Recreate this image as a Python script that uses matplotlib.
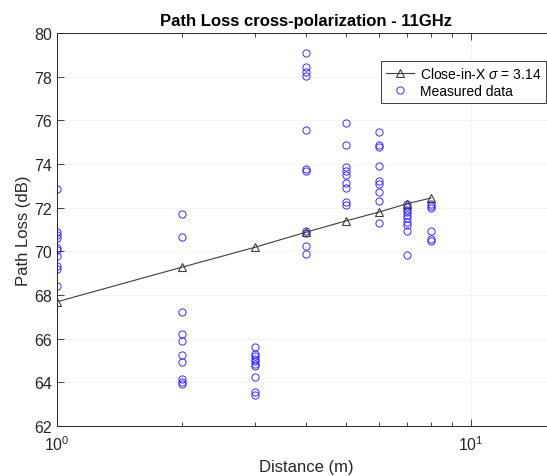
import numpy as np
import matplotlib.pyplot as plt
from matplotlib.ticker import LogLocator, NullFormatter

plt.rcParams['font.family'] = ['Liberation Sans', 'DejaVu Sans']
plt.rcParams['mathtext.fontset'] = 'custom'
plt.rcParams['mathtext.rm'] = 'Liberation Sans'
plt.rcParams['mathtext.it'] = 'Liberation Sans:italic'

# close-in-X model evaluated at each distance
model_dist = [1, 2, 3, 4, 5, 6, 7, 8]
model_pl = [67.69, 69.27, 70.18, 70.88, 71.40, 71.80, 72.18, 72.44]
sigma = 3.14

# measured path loss per distance (m)
measured = {
    1: [72.85, 70.9, 70.75, 70.6, 70.15, 70.05, 69.8, 69.35, 69.2, 68.4],
    2: [71.71, 70.67, 67.23, 66.21, 65.88, 65.25, 64.94, 64.15, 64.03, 63.92],
    3: [65.6, 65.3, 65.19, 65.07, 64.96, 64.84, 64.73, 64.23, 63.54, 63.43],
    4: [79.1, 78.45, 78.2, 78.05, 75.55, 73.77, 73.66, 70.94, 70.84, 70.23, 69.88],
    5: [75.88, 74.87, 73.85, 73.68, 73.5, 73.12, 72.9, 72.27, 72.12],
    6: [75.45, 74.85, 74.78, 73.89, 73.2, 73.08, 72.73, 72.32, 71.3],
    7: [72.17, 72.02, 71.91, 71.79, 71.66, 71.51, 71.36, 71.2, 70.94, 69.83],
    8: [72.17, 72.06, 71.97, 70.94, 70.56, 70.49],
}

meas_x = np.concatenate([[d] * len(v) for d, v in measured.items()])
meas_y = np.concatenate([v for v in measured.values()])

fig = plt.figure(figsize=(5.47, 4.77), dpi=100)
ax = fig.add_axes([57 / 547, 50 / 477, 498.5 / 547, 393 / 477])

ax.plot(model_dist, model_pl, color='#3c3c3c', lw=0.8, marker='^',
        markersize=5.5, markerfacecolor='none', markeredgewidth=0.8,
        label=r'Close-in-X $\sigma$ = %.2f' % sigma, zorder=3)
ax.plot(meas_x, meas_y, linestyle='none', marker='o', markersize=5.2,
        markerfacecolor='none', markeredgecolor='#3a2cff', markeredgewidth=0.7,
        label='Measured data', zorder=2)

ax.set_xscale('log')
ax.set_xlim(1, 16)
ax.set_ylim(62, 80)
ax.set_yticks(np.arange(62, 81, 2))
ax.xaxis.set_minor_locator(LogLocator(base=10, subs=np.arange(2, 10)))
ax.xaxis.set_minor_formatter(NullFormatter())

ax.grid(True, which='major', color='#f2f2f2', lw=0.6)
ax.set_axisbelow(True)

for s in ax.spines.values():
    s.set_color('#262626')
    s.set_linewidth(0.7)

ax.tick_params(which='both', direction='in', top=True, right=True,
               colors='#262626', labelsize=11.5, width=0.6)
ax.tick_params(which='major', length=5)
ax.tick_params(which='minor', length=3)
ax.tick_params(axis='x', which='major', pad=6)

ax.set_xlabel('Distance (m)', fontsize=12, color='#262626', labelpad=4)
ax.set_ylabel('Path Loss (dB)', fontsize=12, color='#262626', labelpad=2)
ax.set_title('Path Loss cross-polarization - 11GHz', fontsize=12,
             fontweight='bold', pad=6)

ax.legend(loc='upper right', bbox_to_anchor=(546 / 547, 415 / 477),
          bbox_transform=fig.transFigure, borderaxespad=0, fancybox=False,
          framealpha=1, edgecolor='#3c3c3c', fontsize=10,
          handlelength=2.0, borderpad=0.35, labelspacing=0.2,
          handletextpad=0.4).get_frame().set_linewidth(0.7)

fig.savefig('out.png', dpi=100)
